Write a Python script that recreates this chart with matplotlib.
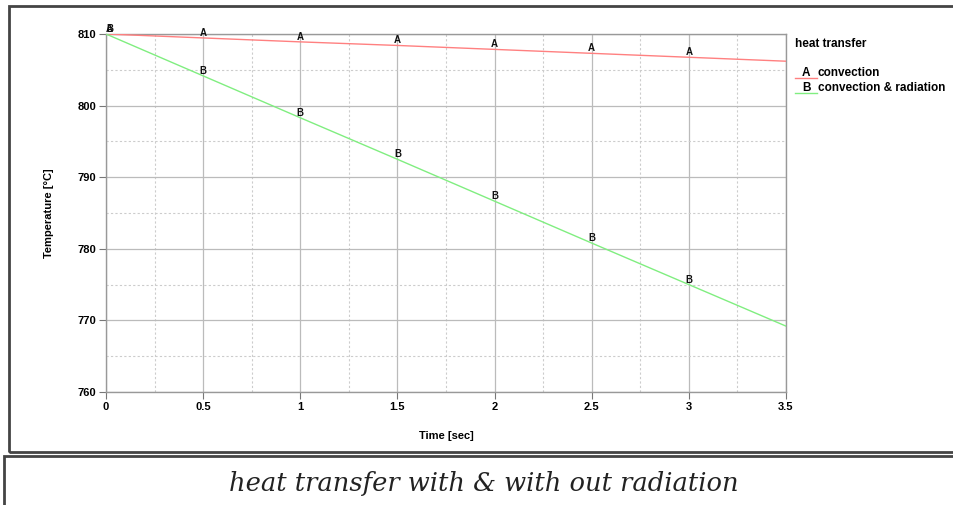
import matplotlib
matplotlib.use("Agg")
import matplotlib.pyplot as plt
from matplotlib.lines import Line2D
from matplotlib.patches import Rectangle
from matplotlib.ticker import MultipleLocator

time_s = [0, 0.5, 1.0, 1.5, 2.0, 2.5, 3.0, 3.5]
temp_convection = [810.0, 809.45, 808.9, 808.4, 807.85, 807.3, 806.75, 806.2]
temp_conv_rad = [810.0, 804.15, 798.3, 792.5, 786.65, 780.8, 775.0, 769.2]
series_names = ["convection", "convection & radiation"]
series_letters = ["A", "B"]
series_colors = ["#ff8080", "#80ee80"]
legend_title = "heat transfer"
caption = "heat transfer with & with out radiation"

fam = ["Liberation Sans Narrow", "Liberation Sans", "DejaVu Sans"]

fig = plt.figure(figsize=(9.54, 5.05), dpi=100)
W, H = 954, 505

def fx(px):
    return px / W

def fy(py):
    return 1 - py / H

# outer frames
fig.add_artist(Rectangle((fx(9), fy(452)), fx(960) - fx(9), fy(6) - fy(452),
                         transform=fig.transFigure, fill=False, lw=2.0, ec="#444444"))
fig.add_artist(Rectangle((fx(4), fy(520)), fx(960) - fx(4), fy(456) - fy(520),
                         transform=fig.transFigure, fill=False, lw=2.0, ec="#444444"))

ax = fig.add_axes([fx(106), fy(392), fx(786) - fx(106), fy(34) - fy(392)])
ax.set_xlim(0, 3.5)
ax.set_ylim(760, 810)
ax.xaxis.set_major_locator(MultipleLocator(0.5))
ax.xaxis.set_minor_locator(MultipleLocator(0.25))
ax.yaxis.set_major_locator(MultipleLocator(10))
ax.yaxis.set_minor_locator(MultipleLocator(5))
ax.grid(which="major", color="#bbbbbb", lw=0.9, ls="-")
ax.grid(which="minor", color="#cccccc", lw=0.8, ls=(0, (2, 2)))
for s in ax.spines.values():
    s.set_color("#999999")
    s.set_linewidth(1.0)
ax.tick_params(which="major", length=5, color="#777777", labelsize=8, pad=2)
ax.tick_params(which="minor", length=0)
ax.set_xticklabels([f"{v:g}" for v in ax.get_xticks()], fontweight="bold", family=fam)
ax.set_yticklabels([f"{v:g}" for v in ax.get_yticks()], fontweight="bold", family=fam)
ax.set_xlabel("Time [sec]", fontsize=8, fontweight="bold", family=fam, labelpad=14)
ax.set_ylabel("Temperature [°C]", fontsize=8, fontweight="bold", family=fam, labelpad=17)

for vals, letter, col in zip([temp_convection, temp_conv_rad], series_letters, series_colors):
    ax.plot(time_s, vals, color=col, lw=1.0, zorder=3)
    for t, v in zip(time_s[:-1], vals[:-1]):
        ax.text(t, v, letter, fontsize=7, fontweight="bold", family=fam,
                ha="left" if t == 0 else "center", va="bottom", zorder=4, color="#111111")

# legend
fig.text(fx(795), fy(44), legend_title, fontsize=8.5, fontweight="bold", family=fam,
         ha="left", va="center")
for i, (name, letter, col) in enumerate(zip(series_names, series_letters, series_colors)):
    y = 73 + i * 15
    fig.add_artist(Line2D([fx(795), fx(817)], [fy(y + 5), fy(y + 5)], color=col, lw=1.0,
                          transform=fig.transFigure))
    fig.text(fx(802), fy(y), letter, fontsize=8.5, fontweight="bold", family=fam,
             ha="left", va="center")
    fig.text(fx(818), fy(y), name, fontsize=8.5, fontweight="bold", family=fam,
             ha="left", va="center")

fig.text(fx(484), fy(484), caption, fontsize=18.5, style="italic",
         family=["DejaVu Serif"], ha="center", va="center", color="#222222")

fig.savefig("out.png", dpi=100)
